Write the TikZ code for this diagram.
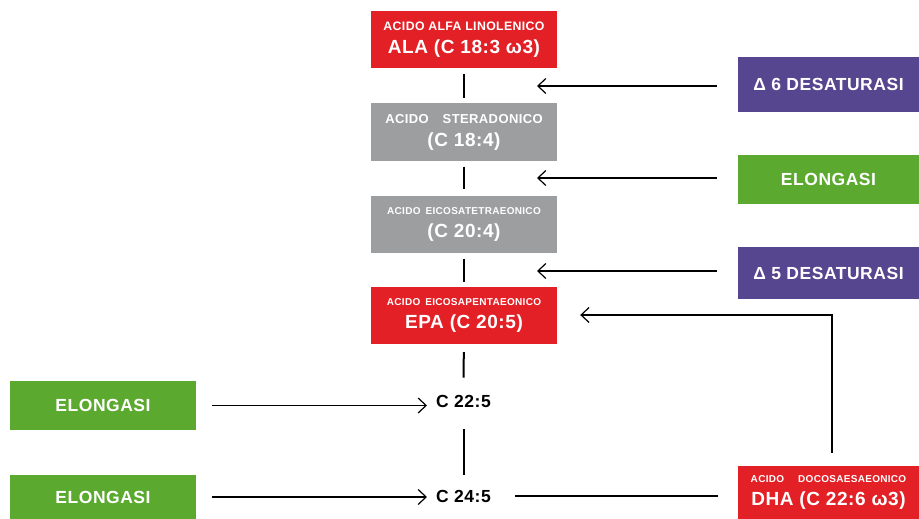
\documentclass[tikz,border=0pt]{standalone}
\usepackage{fontspec}
\setmainfont{Liberation Sans}
\usetikzlibrary{arrows.meta}
\definecolor{cred}{HTML}{E32026}
\definecolor{cgray}{HTML}{9D9EA0}
\definecolor{cpurple}{HTML}{56468F}
\definecolor{cgreen}{HTML}{5BAA2F}
\begin{document}
\begin{tikzpicture}[x=1pt,y=-1pt,
  acid/.style={minimum width=186pt, minimum height=57pt, inner sep=0pt, text=white, align=center, font=\bfseries\fontsize{19}{23}\selectfont\addfontfeature{LetterSpace=3}},
  enz/.style={minimum width=181pt, inner sep=0pt, text=white, font=\bfseries\fontsize{17.5}{21}\selectfont\addfontfeature{LetterSpace=3}},
  mid/.style={inner sep=0pt, font=\bfseries\fontsize{17.5}{21}\selectfont\addfontfeature{LetterSpace=3}},
  link/.style={line width=2pt},
  arr/.style={line width=1.4pt, -{Straight Barb[length=8pt,width=15pt,line width=1.2pt]}},
]
\useasboundingbox (0,0) rectangle (919,519);

\node[acid, fill=cred] (ala) at (464,40) {{\fontsize{12.3}{14}\selectfont ACIDO ALFA LINOLENICO}\\ALA (C 18:3 ω3)};
\node[acid, fill=cgray] (ste) at (464,132) {{\fontsize{13}{14}\selectfont ACIDO\hspace{14pt}STERADONICO}\\(C 18:4)};
\node[acid, fill=cgray] (eic) at (464,224) {{\fontsize{10}{12}\selectfont ACIDO\hspace{5pt}EICOSATETRAEONICO}\\(C 20:4)};
\node[acid, fill=cred] (epa) at (464,315) {{\fontsize{10}{12}\selectfont ACIDO\hspace{5pt}EICOSAPENTAEONICO}\\EPA (C 20:5)};
\node[mid] (c225) at (463.5,401) {C 22:5};
\node[mid] (c245) at (463.5,496) {C 24:5};

\node[enz, fill=cpurple, minimum height=55pt] (d6) at (828.5,84.5) {Δ 6 DESATURASI};
\node[enz, fill=cgreen, minimum height=49pt] (elo) at (828.5,179.5) {ELONGASI};
\node[enz, fill=cpurple, minimum height=52pt] (d5) at (828.5,273) {Δ 5 DESATURASI};
\node[acid, fill=cred, minimum width=181pt, minimum height=53pt] (dha) at (828.5,492.5) {{\fontsize{10}{12}\selectfont ACIDO\hspace{14pt}DOCOSAESAEONICO}\\DHA (C 22:6 ω3)};

\node[enz, fill=cgreen, minimum width=186pt, minimum height=49pt] (el1) at (103,405.5) {ELONGASI};
\node[enz, fill=cgreen, minimum width=186pt, minimum height=44pt] (el2) at (103,497) {ELONGASI};

\draw[link, shorten <=5.5pt, shorten >=5.5pt] (ala) -- (ste);
\draw[link, shorten <=6pt, shorten >=6pt] (ste) -- (eic);
\draw[link, shorten <=6pt, shorten >=4pt] (eic) -- (epa);
\draw[link, shorten <=8.5pt, shorten >=17pt] (epa) -- (c225);
\draw[link, shorten <=22pt, shorten >=14.5pt] (c225) -- (c245);

\coordinate (t1) at (537,86);
\coordinate (t2) at (537,178);
\coordinate (t3) at (537,271);
\draw[arr, shorten <=21pt] (d6.west |- t1) -- (t1);
\draw[arr, shorten <=21pt] (elo.west |- t2) -- (t2);
\draw[arr, shorten <=21pt] (d5.west |- t3) -- (t3);

\draw[arr, line width=1.7pt, shorten <=13pt, shorten >=23pt] ([xshift=3.5pt]dha.north) |- (epa.east);
\draw[line width=1.6pt, shorten <=24pt, shorten >=20pt] (c245.east) -- (c245.east -| dha.west);

\draw[arr, shorten <=16pt, shorten >=9pt] (el1.east) -- (el1.east -| c225.west);
\draw[arr, shorten <=16pt, shorten >=9pt] (el2.east) -- (el2.east -| c245.west);
\end{tikzpicture}
\end{document}
